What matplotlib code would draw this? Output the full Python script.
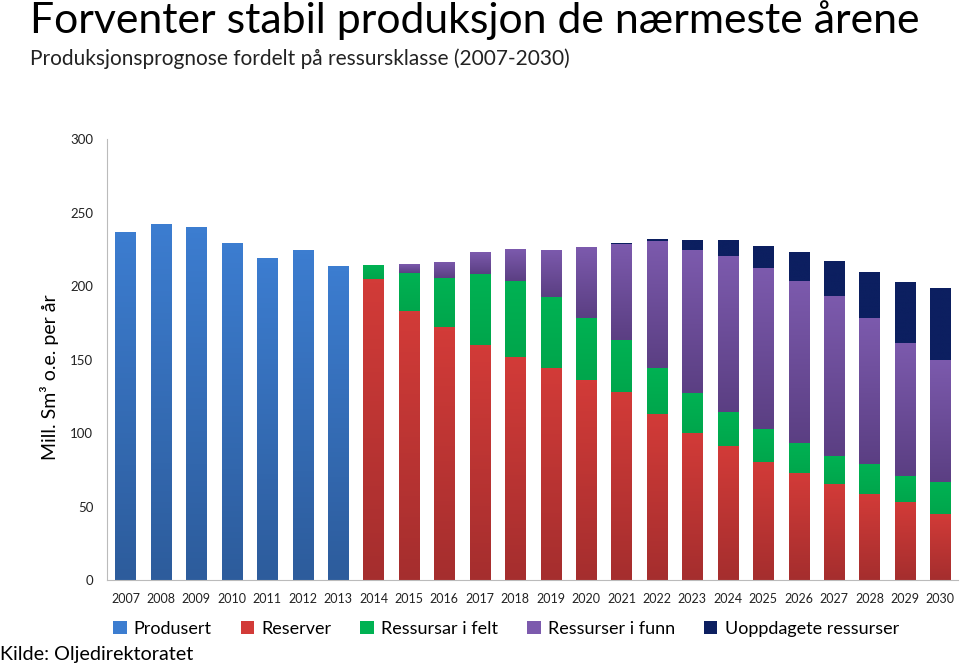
import numpy as np
import matplotlib
matplotlib.use("Agg")
import matplotlib.pyplot as plt
from matplotlib.colors import LinearSegmentedColormap
from matplotlib.patches import Patch

plt.rcParams['font.family'] = ['Lato', 'DejaVu Sans']

years = [str(y) for y in range(2007, 2031)]

# Mill. Sm3 o.e. per year
produsert = [237, 242, 240, 229.5, 219, 224.5, 213.5] + [0] * 17
reserver = [0] * 7 + [205, 183, 172, 160, 151.5, 144.5, 136, 128, 113, 100,
                      91, 80.5, 72.5, 65, 58.5, 53, 45]
felt = [0] * 7 + [9, 26, 33.5, 48.5, 52, 48, 42.5, 35.5, 31.5, 27.5,
                  23.5, 22.5, 20.5, 19.5, 20.5, 17.5, 21.5]
funn = [0] * 7 + [0.6, 5.8, 11, 14.5, 21.5, 32, 48, 65, 86, 97,
                  106, 109.5, 110.5, 109, 99.5, 91, 83.5]
uoppdaget = [0] * 7 + [0, 0, 0, 0, 0, 0, 0, 0.6, 1.5, 7,
                       11, 14.5, 19.5, 23.5, 31, 41.5, 48.5]

series = [
    ("Produsert", produsert, "#3C7DD0", "#2D5C9C"),
    ("Reserver", reserver, "#D23B38", "#A52E2E"),
    ("Ressursar i felt", felt, "#00B253", "#00A64C"),
    ("Ressurser i funn", funn, "#7C5AAD", "#5B3F83"),
    ("Uoppdagete ressurser", uoppdaget, "#0C1F60", "#0C1F60"),
]

fig = plt.figure(figsize=(9.6, 6.67), dpi=100)
ax = fig.add_axes([0.1115, 0.1304, 0.8865, 0.6612])

x = np.arange(len(years))
bottom = np.zeros(len(years))
handles = []
for name, vals, top_c, bot_c in series:
    vals = np.array(vals, dtype=float)
    bars = ax.bar(x, vals, width=0.57, bottom=bottom, color=top_c, linewidth=0)
    cmap = LinearSegmentedColormap.from_list(name, [bot_c, top_c])
    grad = np.linspace(0, 1, 64).reshape(-1, 1)
    for b, v in zip(bars, vals):
        if v <= 0:
            continue
        x0, y0 = b.get_x(), b.get_y()
        im = ax.imshow(grad, cmap=cmap, origin="lower", aspect="auto",
                       extent=[x0, x0 + b.get_width(), y0, y0 + v], zorder=2)
        im.set_clip_path(b)
    bottom += vals
    handles.append(Patch(facecolor=top_c, label=name))

ax.set_xlim(-0.52, 23.5)
ax.set_ylim(0, 300)
ax.set_yticks(range(0, 301, 50))
ax.set_xticks(x)
ax.set_xticklabels(years)
ax.tick_params(axis="both", length=0, colors="#222222")
ax.tick_params(axis="y", pad=10, labelsize=9.5)
ax.tick_params(axis="x", pad=9, labelsize=9)
for side in ["top", "right"]:
    ax.spines[side].set_visible(False)
for side in ["left", "bottom"]:
    ax.spines[side].set_color("#BBBBBB")
ax.set_ylabel("Mill. Sm³ o.e. per år", fontsize=14)
ax.yaxis.set_label_coords(-0.057, 0.46)

fig.text(0.031, 0.970, "Forventer stabil produksjon de nærmeste årene",
         fontsize=30.8, va="center", ha="left")
fig.text(0.031, 0.912, "Produksjonsprognose fordelt på ressursklasse (2007-2030)",
         fontsize=15, va="center", ha="left", color="#222222")

fig.legend(handles=handles, loc="center", bbox_to_anchor=(0.527, 0.057), ncol=5,
           frameon=False, fontsize=13, handlelength=0.75, handleheight=0.75,
           handletextpad=0.4, columnspacing=1.6)

fig.text(0.0, 0.018, "Kilde: Oljedirektoratet", fontsize=14.2, va="center", ha="left")

fig.savefig("out.png", dpi=100)
